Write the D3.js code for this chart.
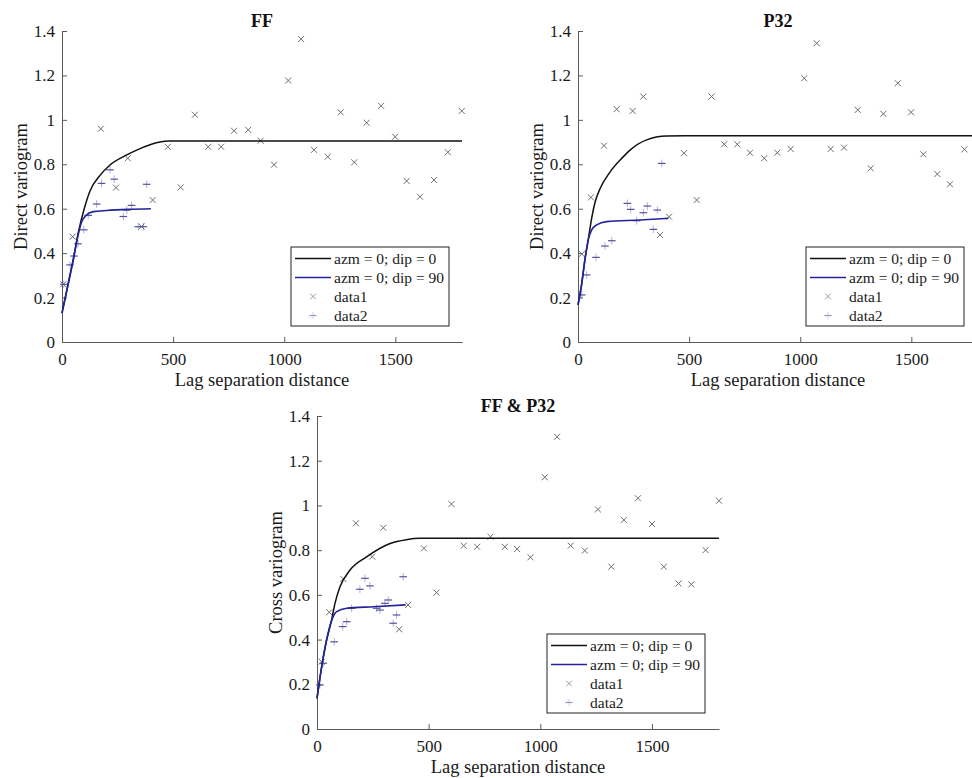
<!DOCTYPE html>
<html>
<head>
<meta charset="utf-8">
<script src="https://cdn.jsdelivr.net/npm/d3@7"></script>
<style>
  html, body { margin: 0; padding: 0; background: #fff; }
  svg { display: block; }
  svg text { font-family: "Liberation Serif", "Times New Roman", Times, "DejaVu Serif", serif !important; }
</style>
</head>
<body>
<svg id="chart" width="972" height="778"></svg>
<script>
// ---- tick values ----
const xTicks = [0, 500, 1000, 1500];
const yTicks = [0, 0.2, 0.4, 0.6, 0.8, 1.0, 1.2, 1.4];

// ---- legend entries ----
const legendLabels = ["azm = 0; dip = 0", "azm = 0; dip = 90", "data1", "data2"];

// ---- FF: fitted models [lag, gamma] ----
const ffDip0 = [[0,0.13],[25,0.25],[50,0.37],[75,0.5],[100,0.6],[126,0.68],[171,0.75],[216,0.797],[291,0.842],[336,0.864],[396,0.888],[440,0.9],[480,0.905],[1800,0.905]];
const ffDip90 = [[0,0.13],[28,0.26],[51,0.37],[70,0.47],[88,0.54],[111,0.572],[141,0.587],[201,0.592],[300,0.597],[400,0.6]];
// FF experimental points
const ffData1 = [[6,0.26],[48,0.474],[175,0.96],[243,0.695],[296,0.827],[358,0.52],[408,0.639],[476,0.879],[534,0.696],[598,1.023],[658,0.879],[716,0.879],[774,0.951],[838,0.955],[894,0.906],[954,0.798],[1018,1.177],[1076,1.364],[1134,0.865],[1196,0.834],[1254,1.034],[1315,0.809],[1371,0.987],[1436,1.063],[1499,0.924],[1551,0.725],[1611,0.654],[1674,0.729],[1736,0.854],[1799,1.04]];
const ffData2 = [[8,0.26],[36,0.347],[54,0.387],[72,0.442],[98,0.505],[118,0.57],[156,0.621],[178,0.714],[216,0.775],[235,0.733],[276,0.565],[291,0.594],[313,0.615],[343,0.519],[366,0.519],[381,0.71]];

// ---- P32 ----
const p32Dip0 = [[0,0.167],[17,0.264],[31,0.37],[46,0.46],[62,0.56],[77,0.63],[99,0.69],[144,0.765],[200,0.83],[234,0.864],[309,0.91],[399,0.927],[480,0.928],[1800,0.928]];
const p32Dip90 = [[0,0.167],[17,0.264],[31,0.37],[46,0.46],[61,0.504],[84,0.527],[129,0.542],[279,0.549],[407,0.557]];
const p32Data1 = [[17,0.396],[58,0.651],[117,0.884],[174,1.048],[246,1.04],[294,1.105],[369,0.482],[410,0.564],[477,0.85],[534,0.639],[601,1.105],[658,0.89],[717,0.89],[774,0.852],[838,0.827],[897,0.852],[957,0.869],[1018,1.187],[1074,1.345],[1137,0.869],[1197,0.875],[1259,1.045],[1317,0.782],[1374,1.027],[1439,1.165],[1499,1.034],[1554,0.845],[1617,0.756],[1674,0.71],[1739,0.867],[1799,1.1]];
const p32Data2 = [[17,0.212],[39,0.302],[81,0.381],[121,0.432],[152,0.456],[222,0.624],[237,0.597],[264,0.546],[294,0.582],[312,0.612],[339,0.507],[357,0.594],[377,0.804]];

// ---- FF & P32 (cross) ----
const crDip0 = [[0,0.137],[21,0.279],[43,0.398],[66,0.49],[80,0.56],[103,0.636],[148,0.711],[222,0.77],[327,0.83],[400,0.847],[461,0.853],[1800,0.853]];
const crDip90 = [[0,0.137],[21,0.279],[43,0.398],[66,0.487],[88,0.525],[133,0.54],[252,0.547],[397,0.555]];
const crData1 = [[21,0.301],[55,0.522],[118,0.671],[174,0.92],[247,0.771],[297,0.9],[368,0.446],[408,0.555],[479,0.808],[535,0.61],[602,1.006],[657,0.82],[717,0.815],[777,0.86],[841,0.815],[896,0.805],[956,0.768],[1020,1.126],[1075,1.307],[1136,0.82],[1199,0.798],[1258,0.982],[1318,0.726],[1374,0.935],[1437,1.032],[1500,0.917],[1553,0.726],[1619,0.651],[1676,0.647],[1740,0.8],[1800,1.021]];
const crData2 = [[13,0.197],[28,0.294],[77,0.39],[115,0.458],[133,0.48],[155,0.54],[192,0.625],[215,0.674],[237,0.64],[267,0.54],[282,0.532],[304,0.562],[319,0.577],[341,0.473],[356,0.51],[386,0.681]];

const FONT = '"Liberation Serif", "Times New Roman", Times, "DejaVu Serif", serif';
const svg = d3.select("#chart");
svg.append("rect").attr("width", 972).attr("height", 778).attr("fill", "#fff");

const COL_DIP0 = "#111111";
const COL_DIP90 = "#22229a";
const COL_D1 = "#6e6e6e";
const COL_D2 = "#5252a0";
const AXIS_COL = "#5a5a5a";

const panels = [
  { title: "FF", ylabel: "Direct variogram", left: 62, right: 462, top: 31, bottom: 342,
    dip0: ffDip0, dip90: ffDip90, d1: ffData1, d2: ffData2, legend: { x: 291, y: 247 } },
  { title: "P32", ylabel: "Direct variogram", left: 578, right: 978, top: 31, bottom: 342,
    dip0: p32Dip0, dip90: p32Dip90, d1: p32Data1, d2: p32Data2, legend: { x: 806, y: 247 } },
  { title: "FF & P32", ylabel: "Cross variogram", left: 317, right: 719, top: 416, bottom: 729,
    dip0: crDip0, dip90: crDip90, d1: crData1, d2: crData2, legend: { x: 547, y: 634 } }
];

const fmt = d => String(+d.toFixed(1));

function crossMark(g, cx, cy, r, color) {
  g.append("path")
    .attr("d", `M${cx - r},${cy - r}L${cx + r},${cy + r}M${cx - r},${cy + r}L${cx + r},${cy - r}`)
    .attr("stroke", color).attr("stroke-width", 1).attr("fill", "none");
}
function plusMark(g, cx, cy, r, color) {
  g.append("path").attr("d", `M${cx - r},${cy}H${cx + r}`)
    .attr("stroke", color).attr("stroke-width", 1.2).attr("fill", "none");
  g.append("path").attr("d", `M${cx},${cy - r}V${cy + r}`)
    .attr("stroke", color).attr("stroke-width", 1).attr("stroke-opacity", 0.45).attr("fill", "none");
}

panels.forEach(p => {
  const x = d3.scaleLinear().domain([0, 1800]).range([p.left, p.right]);
  const y = d3.scaleLinear().domain([0, 1.4]).range([p.bottom, p.top]);
  const g = svg.append("g");

  // axes (left and bottom only, ticks pointing inward)
  const xAxis = g.append("g").attr("transform", `translate(0,${p.bottom})`)
    .call(d3.axisBottom(x).tickValues(xTicks).tickFormat(d3.format("d"))
      .tickSizeInner(-5).tickSizeOuter(0).tickPadding(11));
  const yAxis = g.append("g").attr("transform", `translate(${p.left},0)`)
    .call(d3.axisLeft(y).tickValues(yTicks).tickFormat(fmt)
      .tickSizeInner(-5).tickSizeOuter(0).tickPadding(7));
  [xAxis, yAxis].forEach(a => {
    a.attr("font-family", FONT).attr("font-size", 17);
    a.select(".domain").attr("stroke", AXIS_COL);
    a.selectAll(".tick line").attr("stroke", AXIS_COL);
    a.selectAll(".tick text").attr("fill", "#1a1a1a");
  });

  // experimental points
  const pts = g.append("g");
  p.d1.forEach(d => crossMark(pts, x(d[0]), y(d[1]), 3, COL_D1));
  p.d2.forEach(d => plusMark(pts, x(d[0]), y(d[1]), 3.8, COL_D2));

  // fitted models
  const line = d3.line().x(d => x(d[0])).y(d => y(d[1])).curve(d3.curveMonotoneX);
  g.append("path").datum(p.dip0).attr("d", line)
    .attr("fill", "none").attr("stroke", COL_DIP0).attr("stroke-width", 1.5);
  g.append("path").datum(p.dip90).attr("d", line)
    .attr("fill", "none").attr("stroke", COL_DIP90).attr("stroke-width", 1.6);

  // titles
  const cx = (p.left + p.right) / 2;
  g.append("text").attr("x", cx).attr("y", p.top - 4).attr("text-anchor", "middle")
    .attr("font-family", FONT).attr("font-size", 18).attr("font-weight", "bold")
    .attr("fill", "#111").text(p.title);
  g.append("text").attr("x", cx).attr("y", p.bottom + 44).attr("text-anchor", "middle")
    .attr("font-family", FONT).attr("font-size", 18.5)
    .attr("fill", "#1a1a1a").text("Lag separation distance");
  g.append("text")
    .attr("transform", `translate(${p.left - 41},${(p.top + p.bottom) / 2}) rotate(-90)`)
    .attr("text-anchor", "middle").attr("dominant-baseline", "central")
    .attr("font-family", FONT).attr("font-size", 18.5)
    .attr("fill", "#1a1a1a").text(p.ylabel);

  // legend
  const L = g.append("g").attr("transform", `translate(${p.legend.x},${p.legend.y})`);
  L.append("rect").attr("width", 158).attr("height", 79)
    .attr("fill", "#fff").attr("stroke", "#222").attr("stroke-width", 1);
  legendLabels.forEach((lab, i) => {
    const ry = 11.5 + i * 19;
    if (i === 0 || i === 1) {
      L.append("line").attr("x1", 4).attr("x2", 40).attr("y1", ry).attr("y2", ry)
        .attr("stroke", i === 0 ? COL_DIP0 : COL_DIP90).attr("stroke-width", 1.5);
    } else if (i === 2) {
      crossMark(L, 22, ry, 2.8, "#9a9a9a");
    } else {
      plusMark(L, 22, ry, 3.6, "#9a9aba");
    }
    L.append("text").attr("x", 43).attr("y", ry).attr("dominant-baseline", "central")
      .attr("font-family", FONT).attr("font-size", 15.5)
      .attr("fill", "#1a1a1a").text(lab);
  });
});
</script>
</body>
</html>
